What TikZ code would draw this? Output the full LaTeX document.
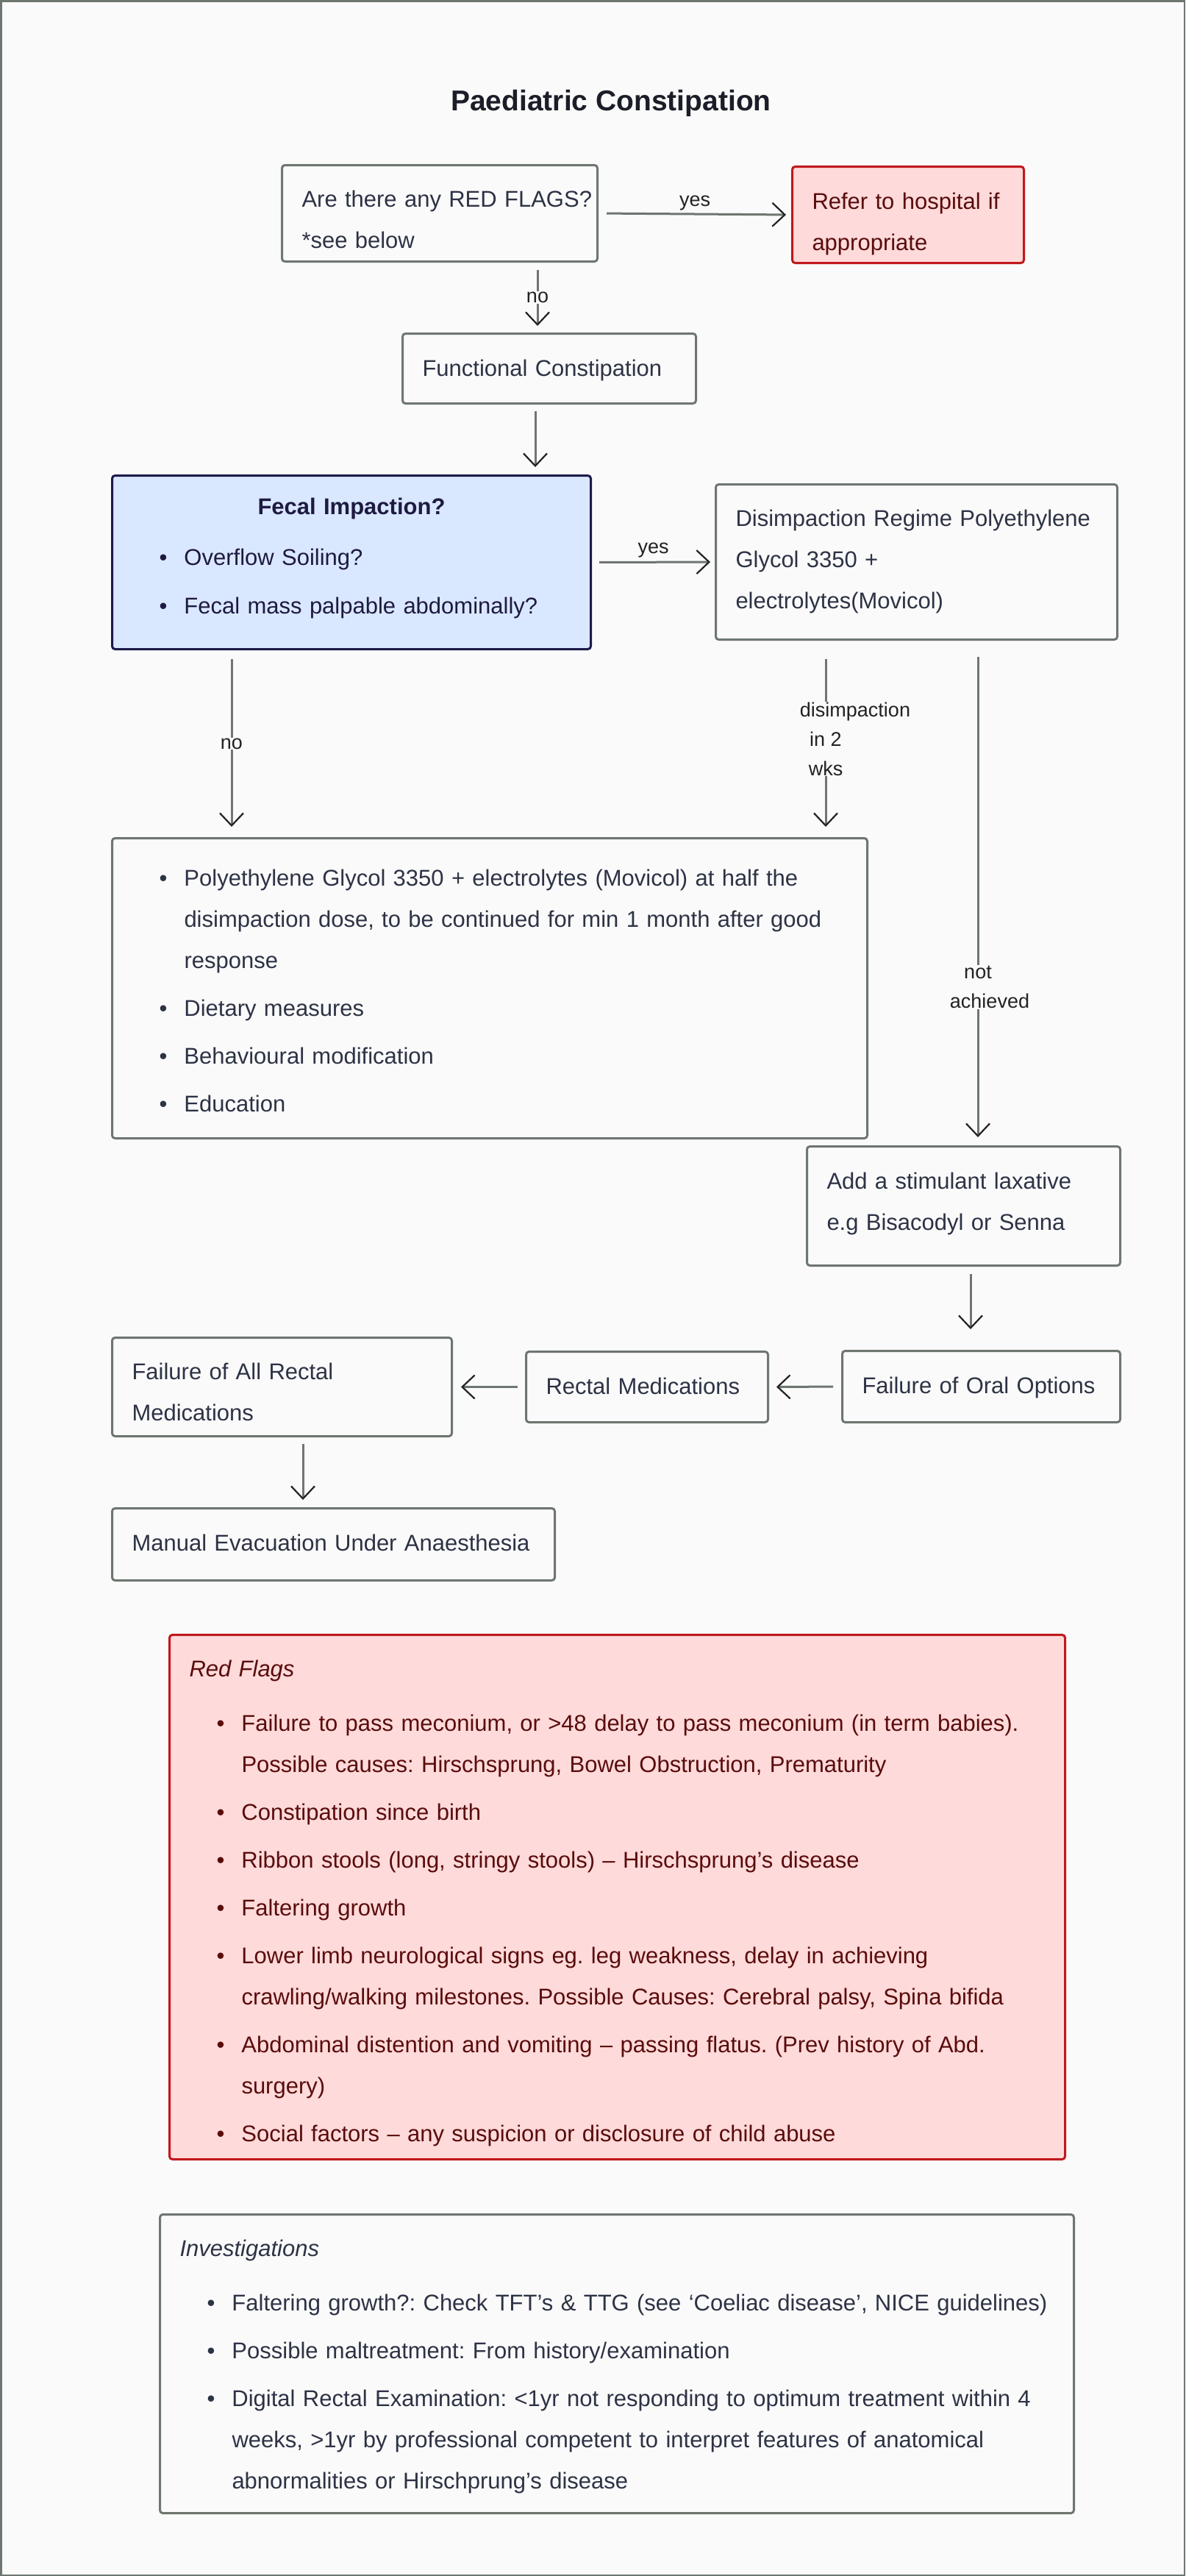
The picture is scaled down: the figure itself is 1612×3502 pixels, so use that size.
\documentclass[tikz,border=0pt]{standalone}
\usepackage{fontspec}
\setmainfont{Liberation Sans}
\usetikzlibrary{arrows.meta}
\frenchspacing
\definecolor{bgc}{HTML}{FAFAFA}
\definecolor{edgec}{HTML}{6E7670}
\definecolor{headc}{HTML}{222222}
\definecolor{txtc}{HTML}{2D3345}
\definecolor{lblc}{HTML}{222222}
\definecolor{titc}{HTML}{1B1E28}
\definecolor{redfill}{HTML}{FFDADA}
\definecolor{redline}{HTML}{C0181C}
\definecolor{redtxt}{HTML}{5A0C0C}
\definecolor{bluefill}{HTML}{DAE8FF}
\definecolor{blueline}{HTML}{1E1A4A}
\definecolor{bluetxt}{HTML}{1E1A40}
\newcommand{\st}{\rule[-17.5pt]{0pt}{56pt}}
\newcommand{\Ln}[1]{\par\noindent\st\mbox{#1}}
\newcommand{\Ti}[1]{\par\noindent\st\hbox to \hsize{\hss#1\hss}}
\newcommand{\Bu}[1]{\par\noindent\st\hbox to 71pt{\hskip37pt\textbullet\hss}\mbox{#1}}
\newcommand{\Co}[1]{\par\noindent\st\hskip71pt\mbox{#1}}
\newcommand{\Gp}[1]{\par\vspace{#1pt}}
\newcommand{\Top}[1]{\hrule height #1pt width 0pt}
\newcommand{\Bot}[1]{\par\nointerlineskip\hrule height #1pt width 0pt}
\tikzset{
  box/.style n args={2}{draw=edgec, line width=3pt, fill=bgc, rounded corners=4pt,
    anchor=north west, inner xsep=27pt, inner ysep=0pt,
    minimum width=#1pt, minimum height=#2pt, text width=#1pt-54pt, align=left,
    text=txtc, font=\fontsize{31}{56}\selectfont\frenchspacing},
  redbox/.style={draw=redline, fill=redfill, text=redtxt},
  bluebox/.style={draw=blueline, fill=bluefill, text=bluetxt},
  arr/.style={draw=edgec, line width=3pt,
    -{Straight Barb[length=17pt,width=32pt,line width=2.2pt,color=headc]}},
  lbl/.style={font=\fontsize{27}{40}\selectfont, text=lblc, fill=bgc, inner sep=1pt, align=center},
  lbly/.style={font=\fontsize{27}{40}\selectfont, text=lblc, inner sep=0pt, anchor=base},
}
\begin{document}
\begin{tikzpicture}[x=1pt,y=-1pt]
\useasboundingbox (0,0) rectangle (1612,3502);
\fill[bgc] (0,0) rectangle (1612,3502);
\draw[edgec, line width=2.5pt] (1.25,1.25) rectangle (1610.75,3500.75);

\node[font=\fontsize{39}{46}\selectfont\bfseries, text=titc, anchor=base] (title) at (831,150) {Paediatric Constipation};

\node[box={429}{131}] (A) at (382,223) {\Top{18}\Ln{Are there any RED FLAGS?}\Ln{*see below}};
\node[box={315}{128}, redbox] (R) at (1076,225) {\Top{19}\Ln{Refer to hospital if}\Ln{appropriate}};
\node[box={399}{95}] (FC) at (546,452) {\Top{0}\Ln{Functional Constipation}};
\node[box={651}{236}, bluebox] (FI) at (151,645) {\Top{0}\Ti{\bfseries Fecal Impaction?}\Gp{13}\Bu{Overflow Soiling?}\Gp{10}\Bu{Fecal mass palpable abdominally?}\Bot{16}};
\node[box={546}{211}] (D) at (972,657) {\Top{0}\Ln{Disimpaction Regime Polyethylene}\Ln{Glycol 3350 +}\Ln{electrolytes(Movicol)}\Bot{6}};
\node[box={1027}{408}] (M) at (151,1138) {\Top{8}\Bu{Polyethylene Glycol 3350 + electrolytes (Movicol) at half the}\Co{disimpaction dose, to be continued for min 1 month after good}\Co{response}\Gp{9}\Bu{Dietary measures}\Gp{9}\Bu{Behavioural modification}\Gp{9}\Bu{Education}};
\node[box={426}{162}] (S) at (1096,1557) {\Top{0}\Ln{Add a stimulant laxative}\Ln{e.g Bisacodyl or Senna}\Bot{11}};
\node[box={378}{97}] (O) at (1144,1835) {\Top{0}\Ln{Failure of Oral Options}\Bot{2}};
\node[box={329}{96}] (RM) at (714,1836) {\Top{0}\Ln{Rectal Medications}\Bot{1}};
\node[box={462}{134}] (FA) at (151,1817) {\Top{15}\Ln{Failure of All Rectal}\Ln{Medications}};
\node[box={602}{98}] (ME) at (151,2049) {\Top{0}\Ln{Manual Evacuation Under Anaesthesia}\Bot{3}};

\node[box={1218}{713}, redbox] (RF) at (229,2221) {\Top{12}\Ln{\itshape Red Flags}\Gp{18}%
\Bu{Failure to pass meconium, or >48 delay to pass meconium (in term babies).}\Co{Possible causes: Hirschsprung, Bowel Obstruction, Prematurity}\Gp{9}%
\Bu{Constipation since birth}\Gp{9}%
\Bu{Ribbon stools (long, stringy stools) – Hirschsprung’s disease}\Gp{9}%
\Bu{Faltering growth}\Gp{9}%
\Bu{Lower limb neurological signs eg. leg weakness, delay in achieving}\Co{crawling/walking milestones. Possible Causes: Cerebral palsy, Spina bifida}\Gp{9}%
\Bu{Abdominal distention and vomiting – passing flatus. (Prev history of Abd.}\Co{surgery)}\Gp{9}%
\Bu{Social factors – any suspicion or disclosure of child abuse}};

\node[box={1243}{406}] (IV) at (216,3009) {\Top{3}\Ln{\itshape Investigations}\Gp{18}%
\Bu{Faltering growth?: Check TFT’s \& TTG (see ‘Coeliac disease’, NICE guidelines)}\Gp{9}%
\Bu{Possible maltreatment: From history/examination}\Gp{9}%
\Bu{Digital Rectal Examination: <1yr not responding to optimum treatment within 4}\Co{weeks, >1yr by professional competent to interpret features of anatomical}\Co{abnormalities or Hirschprung’s disease}};

\coordinate (xa) at (731,0);
\coordinate (xb) at (728,0);
\coordinate (xc) at (315,0);
\coordinate (xd) at (1123,0);
\coordinate (xe) at (1330,0);
\coordinate (xf) at (1320,0);
\coordinate (xg) at (412,0);

\draw[arr, shorten <=11pt, shorten >=7pt] (A.east) -- node[lbly, yshift=11pt]{yes} (R.west);
\draw[arr, shorten <=10pt, shorten >=9pt] (A.south -| xa) -- node[lbl]{no} (FC.north -| xa);
\draw[arr, shorten <=9pt, shorten >=10pt] (FC.south -| xb) -- (FI.north -| xb);
\draw[arr, shorten <=10pt, shorten >=6pt] (FI.east) -- node[lbly, yshift=12pt]{yes} (D.west);
\draw[arr, shorten <=12pt, shorten >=14pt] (FI.south -| xc) -- node[lbl]{no} (M.north -| xc);
\draw[arr, shorten <=25pt, shorten >=14pt] (D.south -| xd) -- node[lbl]{\hspace*{80pt}disimpaction\\in 2\\wks} (M.north -| xd);
\draw[arr, shorten <=22pt, shorten >=11pt] (D.south -| xe) -- node[lbl, pos=0.687]{not\\\hspace*{32pt}achieved} (S.north -| xe);
\draw[arr, shorten <=10pt, shorten >=28pt] (S.south -| xf) -- (O.north -| xf);
\draw[arr, shorten <=11pt, shorten >=10pt] (O.west) -- (RM.east);
\draw[arr, shorten <=10pt, shorten >=11pt] (RM.west) -- (FA.east);
\draw[arr, shorten <=9pt, shorten >=10pt] (FA.south -| xg) -- (ME.north -| xg);
\end{tikzpicture}
\end{document}
